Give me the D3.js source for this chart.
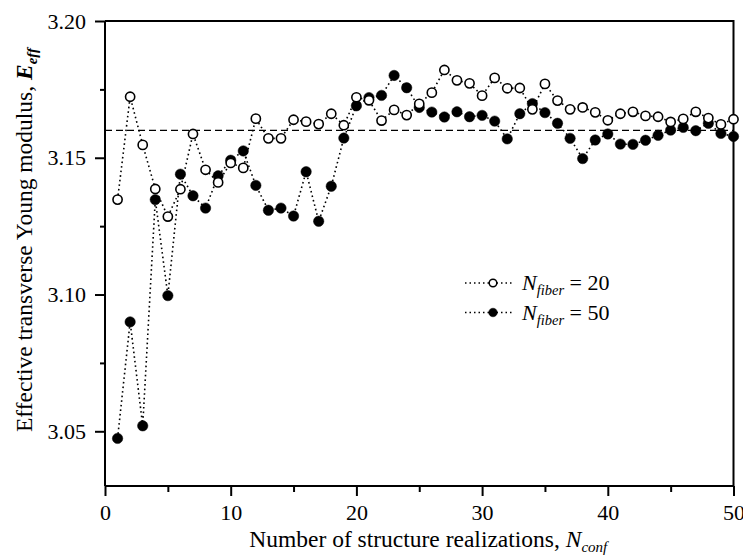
<!DOCTYPE html>
<html>
<head>
<meta charset="utf-8">
<script src="https://cdn.jsdelivr.net/npm/d3@7"></script>
<style>
  html, body { margin: 0; padding: 0; background: #fff; }
  svg { display: block; font-family: "Liberation Serif", "Times New Roman", serif; }
</style>
</head>
<body>
<svg id="chart" width="743" height="559"></svg>
<script>
const nConf = d3.range(1, 51);
const eFiber20 = [
  3.1347, 3.1723, 3.1547, 3.1386, 3.1285, 3.1385, 3.1587, 3.1456, 3.1410, 3.1481,
  3.1463, 3.1643, 3.1571, 3.1571, 3.1639, 3.1632, 3.1623, 3.1661, 3.1619, 3.1721,
  3.1710, 3.1636, 3.1675, 3.1656, 3.1697, 3.1738, 3.1821, 3.1783, 3.1772, 3.1727,
  3.1792, 3.1754, 3.1755, 3.1677, 3.1770, 3.1709, 3.1677, 3.1684, 3.1666, 3.1637,
  3.1661, 3.1668, 3.1653, 3.1650, 3.1631, 3.1642, 3.1668, 3.1645, 3.1622, 3.1641
];
const eFiber50 = [
  3.0474, 3.0900, 3.0520, 3.1347, 3.0996, 3.1440, 3.1361, 3.1316, 3.1434, 3.1491,
  3.1525, 3.1399, 3.1308, 3.1316, 3.1287, 3.1449, 3.1268, 3.1396, 3.1572, 3.1690,
  3.1720, 3.1728, 3.1801, 3.1756, 3.1684, 3.1667, 3.1649, 3.1668, 3.1650, 3.1655,
  3.1634, 3.1569, 3.1661, 3.1698, 3.1665, 3.1626, 3.1571, 3.1497, 3.1565, 3.1587,
  3.1550, 3.1549, 3.1564, 3.1582, 3.1601, 3.1611, 3.1599, 3.1626, 3.1589, 3.1578
];
const referenceValue = 3.16;
const xMajorTicks = [0, 10, 20, 30, 40, 50];
const xMinorTicks = [5, 15, 25, 35, 45];
const yMajorTicks = [3.05, 3.10, 3.15, 3.20];
const yMinorTicks = [3.075, 3.125, 3.175];
const legendLabels = ["20", "50"];

const svg = d3.select("#chart");
const L = 105, R = 733.5, T = 21, B = 486;
const x = d3.scaleLinear().domain([0, 50]).range([L, R]);
const y = d3.scaleLinear().domain([3.03, 3.20]).range([B, T]);
const FS = 22;   // tick labels
const LFS = 23.5; // axis titles

// frame (top and right)
svg.append("path")
  .attr("d", `M${L},${T}H${R}V${B}`)
  .attr("fill", "none").attr("stroke", "#000").attr("stroke-width", 2);

// x axis: minor then major in separate groups
const gxm = svg.append("g").attr("transform", `translate(0,${B})`)
  .call(d3.axisBottom(x).tickValues(xMinorTicks).tickSize(6).tickFormat(""));
gxm.select(".domain").remove();
gxm.selectAll(".tick line").attr("stroke-width", 2);
const gx = svg.append("g").attr("transform", `translate(0,${B})`)
  .call(d3.axisBottom(x).tickValues(xMajorTicks).tickSize(10).tickPadding(8).tickFormat(d3.format("d")));
gx.select(".domain").attr("stroke-width", 2).attr("d", `M${L},0H${R}`);
gx.selectAll(".tick line").attr("stroke-width", 2);
gx.selectAll("text").attr("font-size", FS).attr("font-family", "Liberation Serif").attr("fill", "#000");

// y axis
const gym = svg.append("g").attr("transform", `translate(${L},0)`)
  .call(d3.axisLeft(y).tickValues(yMinorTicks).tickSize(5).tickFormat(""));
gym.select(".domain").remove();
gym.selectAll(".tick line").attr("stroke-width", 2);
const gy = svg.append("g").attr("transform", `translate(${L},0)`)
  .call(d3.axisLeft(y).tickValues(yMajorTicks).tickSize(10).tickPadding(9).tickFormat(d3.format(".2f")));
gy.select(".domain").attr("stroke-width", 2).attr("d", `M0,${T}V${B}`);
gy.selectAll(".tick line").attr("stroke-width", 2);
gy.selectAll("text").attr("font-size", FS).attr("font-family", "Liberation Serif").attr("fill", "#000");

// dashed reference line
svg.append("line")
  .attr("x1", L).attr("x2", R)
  .attr("y1", y(referenceValue)).attr("y2", y(referenceValue))
  .attr("stroke", "#000").attr("stroke-width", 1.3).attr("stroke-dasharray", "7,4");

function drawSeries(vals, filled) {
  const data = nConf.map((n, i) => [n, vals[i]]);
  svg.append("path")
    .datum(data)
    .attr("fill", "none").attr("stroke", "#000").attr("stroke-width", 1.6)
    .attr("stroke-dasharray", "1.6,3")
    .attr("d", d3.line().x(d => x(d[0])).y(d => y(d[1])));
  svg.append("g").selectAll("circle").data(data).join("circle")
    .attr("cx", d => x(d[0])).attr("cy", d => y(d[1]))
    .attr("r", filled ? 5.2 : 4.6)
    .attr("fill", filled ? "#000" : "#fff")
    .attr("stroke", "#000").attr("stroke-width", filled ? 0.5 : 1.6);
}
drawSeries(eFiber50, true);
drawSeries(eFiber20, false);

// legend
const legend = svg.append("g");
legendLabels.forEach((lab, i) => {
  const ly = 283 + i * 29.5;
  legend.append("line").attr("x1", 465).attr("x2", 512).attr("y1", ly).attr("y2", ly)
    .attr("stroke", "#000").attr("stroke-width", 1.5).attr("stroke-dasharray", "1.5,3");
  legend.append("circle").attr("cx", 493).attr("cy", ly).attr("r", i === 0 ? 3.8 : 4.3)
    .attr("fill", i === 0 ? "#fff" : "#000").attr("stroke", "#000").attr("stroke-width", i === 0 ? 1.5 : 0.5);
  const t = legend.append("text").attr("x", 522).attr("y", ly + 7).attr("font-size", FS).attr("fill", "#000");
  t.append("tspan").attr("font-style", "italic").text("N");
  t.append("tspan").attr("font-style", "italic").attr("font-size", 14.5).attr("dy", 5).text("fiber");
  t.append("tspan").attr("dy", -5).text(" = " + lab);
});

// x axis label
const xl = svg.append("text").attr("x", (L + R) / 2 + 9).attr("y", 547)
  .attr("text-anchor", "middle").attr("font-size", LFS).attr("fill", "#000");
xl.append("tspan").text("Number of structure realizations, ");
xl.append("tspan").attr("font-style", "italic").text("N");
xl.append("tspan").attr("font-style", "italic").attr("font-size", 15).attr("dy", 5).text("conf");

// y axis label
const yl = svg.append("text").attr("transform", "translate(32,240) rotate(-90)")
  .attr("text-anchor", "middle").attr("font-size", LFS).attr("fill", "#000");
yl.append("tspan").text("Effective transverse Young modulus, ");
yl.append("tspan").attr("font-style", "italic").attr("font-weight", "bold").text("E");
yl.append("tspan").attr("font-style", "italic").attr("font-weight", "bold").attr("font-size", 15).attr("dy", 5).text("eff");
</script>
</body>
</html>
